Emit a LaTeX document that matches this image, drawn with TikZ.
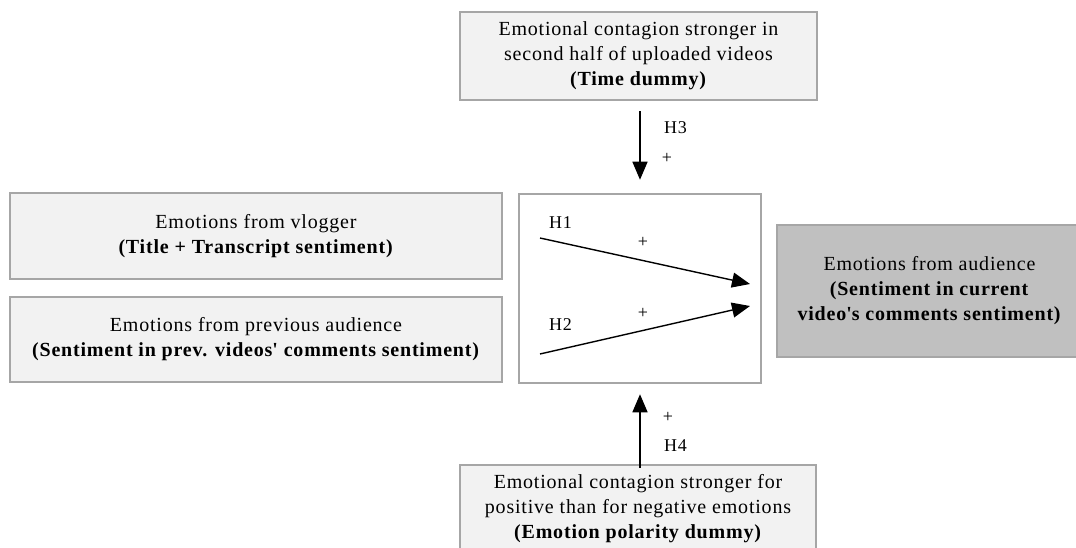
\documentclass[tikz,border=0pt]{standalone}
\usepackage{fontspec}
\setmainfont{Liberation Serif}[LetterSpace=4]
\usetikzlibrary{arrows.meta,positioning,calc}
\definecolor{boxline}{HTML}{A6A6A6}
\definecolor{boxfill}{HTML}{F2F2F2}
\definecolor{outfill}{HTML}{C0C0C0}
\tikzset{
>={Triangle[length=18pt,width=15pt]},
  factor/.style={
    rectangle,
    draw=boxline, line width=2.5pt,
    fill=boxfill,
    align=center,
    inner sep=0pt,
    font=\fontsize{20}{25}\selectfont},
  outcome/.style={factor, fill=outfill},
  effectbox/.style={factor, fill=white},
  hyp/.style={draw, line width=1.4pt, ->},
  hlabel/.style={font=\fontsize{18}{18}\selectfont, inner sep=0pt},
}
\begin{document}
\begin{tikzpicture}
  [x=1pt, y=-1pt]
     \clip (0,0) rectangle (1076,548);
     \node[factor, minimum width=357pt, minimum height=88pt] (time-dummy) at (638.5,56)
       {Emotional contagion stronger in\\second half of uploaded videos\\\textbf{(Time dummy)}};
     \node[factor, minimum width=492pt, minimum height=86pt] (vlogger) at (256,236)
       {Emotions from vlogger\\\textbf{(Title + Transcript sentiment)}};
     \node[factor, minimum width=492pt, minimum height=85pt] (prev-audience) at (256,339.5)
       {Emotions from previous audience\\\textbf{(Sentiment in prev. videos\textquotesingle{} comments sentiment)}};
     \node[effectbox, minimum width=242pt, minimum height=189pt] (effects) at (640,288.5) {};
     \node[outcome, minimum width=305pt, minimum height=132pt] (audience) at (929.5,291)
       {Emotions from audience\\\textbf{(Sentiment in current}\\\textbf{video\textquotesingle{}s comments sentiment)}};
     \node[factor, minimum width=356pt, minimum height=88pt] (polarity-dummy) at (638,509)
       {Emotional contagion stronger for\\positive than for negative emotions\\\textbf{(Emotion polarity dummy)}};
     % paths inside the effect box
     \coordinate (h1-start) at (540,238);
     \coordinate (h1-end) at (750,284);
     \coordinate (h2-start) at (540,354);
     \coordinate (h2-end) at (750,306);
     \draw[hyp] (h1-start) -- (h1-end);
     \draw[hyp] (h2-start) -- (h2-end);
     \node[hlabel, anchor=west] (h1) at (549,223) {H1};
     \node[hlabel] (h1-sign) at (643,242) {+};
     \node[hlabel, anchor=west] (h2) at (549,325) {H2};
     \node[hlabel] (h2-sign) at (643,313) {+};
     % moderators
     \draw[hyp, shorten <=10pt, shorten >=13pt] (time-dummy.south -| effects.north) -- (effects.north);
     \node[hlabel, anchor=west] (h3) at (664,128) {H3};
     \node[hlabel] (h3-sign) at (667,158) {+};
     \draw[hyp, shorten <=-4pt, shorten >=10pt] (polarity-dummy.north -| effects.south) -- (effects.south);
     \node[hlabel] (h4-sign) at (668,417) {+};
     \node[hlabel, anchor=west] (h4) at (664,446) {H4};
  \end{tikzpicture}
\end{document}
